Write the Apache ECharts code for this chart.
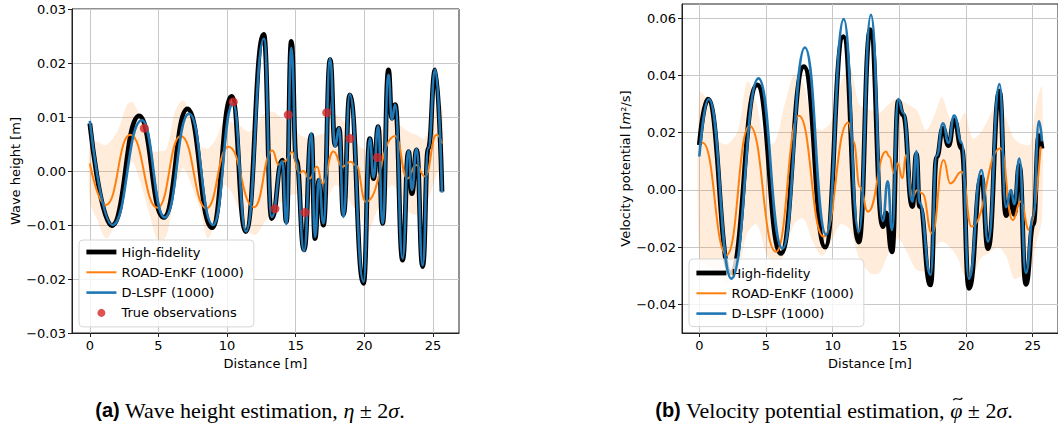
<!DOCTYPE html>
<html><head><meta charset="utf-8">
<script src="https://cdn.jsdelivr.net/npm/echarts@6/dist/echarts.min.js"></script>
<style>html,body{margin:0;padding:0;background:#fff}#c{width:1058px;height:431px}</style>
</head><body><div id="c"></div>
<script>
// ---------- (a) wave height ----------
const hfX_a = [0, 1.60, 3.59, 5.38, 7.11, 8.90, 10.34, 11.36, 12.67, 13.25, 14.03, 14.32, 14.68, 15.05, 15.61, 16.14, 16.41, 16.70, 17.02, 17.51, 17.87, 18.16, 18.48, 18.94, 19.94, 20.40, 20.67, 21.01, 21.33, 21.76, 22.01, 22.25, 22.79, 23.22, 23.47, 23.81, 24.25, 24.66, 25.17, 25.66];
const hfY_a = [0.0088, -0.0101, 0.0102, -0.0086, 0.0115, -0.0105, 0.0138, -0.0112, 0.0253, -0.0088, 0.0020, -0.0094, 0.0240, 0.0020, -0.0146, 0.0067, -0.0125, -0.0017, -0.0100, 0.0206, 0.0048, 0.0079, -0.0081, 0.0141, -0.0208, 0.0060, -0.0014, 0.0082, -0.0097, 0.0187, 0.0098, 0.0123, -0.0165, 0.0036, -0.0042, 0.0039, -0.0177, 0.0042, 0.0187, -0.0038];
const dlX_a = [0, 1.65, 3.79, 5.45, 7.23, 8.98, 10.44, 11.38, 12.69, 13.25, 14.03, 14.32, 14.68, 15.05, 15.61, 16.14, 16.41, 16.70, 17.02, 17.51, 17.87, 18.16, 18.48, 18.94, 19.94, 20.40, 20.67, 21.01, 21.33, 21.76, 22.01, 22.25, 22.79, 23.22, 23.47, 23.81, 24.25, 24.66, 25.17, 25.66];
const dlY_a = [0.0093, -0.0100, 0.0094, -0.0086, 0.0106, -0.0100, 0.0125, -0.0112, 0.0245, -0.0085, 0.0018, -0.0098, 0.0228, 0.0018, -0.0148, 0.0070, -0.0122, -0.0015, -0.0097, 0.0208, 0.0045, 0.0080, -0.0085, 0.0142, -0.0205, 0.0060, -0.0012, 0.0083, -0.0097, 0.0178, 0.0095, 0.0123, -0.0162, 0.0038, -0.0035, 0.0041, -0.0175, 0.0042, 0.0188, -0.0040];
const enX_a = [0, 1.17, 2.94, 4.93, 6.63, 8.50, 10.10, 11.97, 13.30, 13.75, 14.20, 14.75, 15.25, 15.55, 16.00, 16.55, 16.95, 17.75, 18.40, 19.00, 19.40, 20.11, 22.25, 23.15, 23.76, 24.42, 25.27, 25.66];
const enY_a = [0.0014, -0.0063, 0.0067, -0.0068, 0.0065, -0.0069, 0.0045, -0.0067, 0.0038, 0.0012, 0.0018, 0.0035, -0.0004, 0.0000, -0.0014, 0.0008, -0.0023, 0.0036, 0.0008, 0.0017, 0.0010, -0.0057, 0.0065, -0.0014, 0.0011, -0.0010, 0.0067, 0.0051];
const bandX_a = [0, 0.5, 1.2, 2.0, 2.7, 3.1, 3.6, 4.3, 5.0, 5.6, 6.2, 6.8, 7.4, 8.0, 8.6, 9.2, 9.8, 10.3, 10.9, 11.5, 12.1, 12.6, 13.3, 14.0, 14.7, 15.3, 16.0, 16.7, 17.3, 17.9, 18.5, 19.1, 19.8, 20.2, 20.8, 21.4, 22.0, 22.6, 23.2, 23.8, 24.4, 25.0, 25.4, 25.7];
const bandHi_a = [0.0057, 0.0054, 0.0048, 0.0073, 0.0122, 0.0128, 0.0104, 0.0039, 0.0036, 0.0042, 0.0110, 0.0131, 0.0098, 0.0048, 0.0042, 0.0060, 0.0094, 0.0091, 0.0085, 0.0073, 0.0079, 0.0104, 0.0110, 0.0098, 0.0085, 0.0067, 0.0060, 0.0067, 0.0073, 0.0104, 0.0091, 0.0067, 0.0042, 0.0042, 0.0060, 0.0079, 0.0098, 0.0085, 0.0073, 0.0067, 0.0060, 0.0104, 0.0128, 0.0115];
const bandLo_a = [-0.0057, -0.0088, -0.0125, -0.0088, -0.0014, 0.0017, -0.0014, -0.0075, -0.0131, -0.0119, -0.0038, 0.0005, -0.0026, -0.0069, -0.0125, -0.0088, -0.0026, -0.0038, -0.0075, -0.0112, -0.0118, -0.0100, -0.0075, -0.0057, -0.0044, -0.0044, -0.0057, -0.0075, -0.0051, -0.0026, -0.0038, -0.0063, -0.0088, -0.0120, -0.0081, -0.0051, -0.0026, -0.0044, -0.0075, -0.0081, -0.0069, -0.0026, -0.0001, -0.0014];
const obsX = [3.97, 10.45, 13.49, 14.46, 15.68, 17.26, 18.96, 20.96];
const obsY = [0.0079, 0.0128, -0.0070, 0.0104, -0.0077, 0.0108, 0.0060, 0.0025];

// ---------- (b) velocity potential ----------
const hfX_b = [0, 0.64, 2.35, 4.34, 6.12, 7.84, 9.44, 10.80, 11.96, 12.82, 13.76, 14.00, 14.45, 14.92, 15.29, 15.98, 16.28, 16.52, 17.34, 17.80, 18.27, 18.69, 19.11, 19.68, 20.22, 21.16, 21.65, 22.51, 23.00, 23.38, 23.62, 24.00, 24.49, 25.05, 25.47, 25.70];
const hfY_b = [0.0157, 0.0317, -0.0290, 0.0367, -0.0222, 0.0431, -0.0200, 0.0536, -0.0182, 0.0560, -0.0128, -0.0080, -0.0216, 0.0310, 0.0262, -0.0058, 0.0125, -0.0058, -0.0332, 0.0115, 0.0215, 0.0155, 0.0245, 0.0145, -0.0344, 0.0045, -0.0205, 0.0345, -0.0090, -0.0020, -0.0085, 0.0085, -0.0330, -0.0120, 0.0190, 0.0145];
const dlX_b = [0, 0.70, 2.40, 4.44, 6.24, 7.92, 9.52, 10.83, 11.96, 12.87, 13.76, 14.13, 14.45, 14.92, 15.29, 15.98, 16.28, 16.52, 17.34, 17.80, 18.27, 18.69, 19.11, 19.68, 20.22, 21.16, 21.65, 22.51, 23.00, 23.38, 23.62, 24.00, 24.49, 25.05, 25.47, 25.70];
const dlY_b = [0.0117, 0.0318, -0.0310, 0.0390, -0.0205, 0.0498, -0.0157, 0.0597, -0.0146, 0.0612, -0.0108, 0.0030, -0.0140, 0.0318, 0.0270, -0.0040, 0.0135, -0.0045, -0.0297, 0.0120, 0.0233, 0.0165, 0.0260, 0.0165, -0.0310, 0.0070, -0.0180, 0.0370, -0.0060, 0.0000, -0.0050, 0.0110, -0.0290, -0.0090, 0.0240, 0.0170];
const enX_b = [0, 0.25, 2.05, 3.77, 5.75, 7.47, 9.32, 11.17, 11.55, 12.05, 12.65, 14.00, 14.25, 14.62, 14.87, 15.24, 15.49, 16.00, 16.35, 16.72, 17.46, 18.32, 18.82, 19.68, 20.42, 22.59, 23.50, 24.10, 24.73, 25.60];
const enY_b = [0.0160, 0.0165, -0.0227, 0.0224, -0.0216, 0.0259, -0.0163, 0.0236, 0.0170, 0.0010, -0.0076, 0.0134, 0.0117, 0.0058, 0.0093, 0.0041, 0.0122, -0.0023, 0.0000, -0.0012, -0.0152, 0.0105, 0.0023, 0.0064, -0.0128, 0.0146, -0.0105, -0.0040, -0.0140, 0.0152];
const bandX_b = [0, 0.7, 1.4, 2.1, 2.9, 3.6, 4.3, 5.0, 5.7, 6.4, 7.1, 7.8, 8.5, 9.2, 9.9, 10.6, 11.3, 12.0, 12.8, 13.5, 14.2, 14.9, 15.6, 16.3, 17.0, 17.7, 18.2, 18.8, 19.4, 19.9, 20.5, 21.1, 21.7, 22.4, 23.0, 23.6, 24.2, 24.8, 25.3, 25.7];
const bandLo_b = [-0.024, -0.027, -0.030, -0.033, -0.028, -0.015, -0.012, -0.022, -0.027, -0.022, -0.012, -0.010, -0.018, -0.023, -0.018, -0.012, -0.014, -0.024, -0.029, -0.029, -0.022, -0.017, -0.022, -0.028, -0.028, -0.020, -0.018, -0.020, -0.024, -0.030, -0.030, -0.024, -0.022, -0.020, -0.023, -0.031, -0.030, -0.029, -0.018, -0.010];
const bandHi_b = [0.034, 0.031, 0.0175, 0.016, 0.021, 0.038, 0.030, 0.016, 0.017, 0.030, 0.040, 0.037, 0.023, 0.021, 0.024, 0.037, 0.043, 0.030, 0.028, 0.027, 0.030, 0.032, 0.030, 0.028, 0.021, 0.027, 0.0325, 0.025, 0.023, 0.027, 0.018, 0.020, 0.025, 0.031, 0.025, 0.018, 0.016, 0.016, 0.031, 0.036];

// ---------- ticks / labels ----------
const xTicks = [0, 5, 10, 15, 20, 25];
const yTicks_a = [-0.03, -0.02, -0.01, 0.00, 0.01, 0.02, 0.03];
const yTicks_b = [-0.04, -0.02, 0.00, 0.02, 0.04, 0.06];
const names = ['High-fidelity', 'ROAD-EnKF (1000)', 'D-LSPF (1000)', 'True observations'];

const FONT = 'DejaVu Sans';
const C_HF = '#000000', C_EN = '#ff7f0e', C_DL = '#1f77b4', C_OBS = '#d62728';
const fmtY = v => (v < 0 ? '\u2212' : '') + Math.abs(v).toFixed(2);
const pairs = (xs, ys) => xs.map((x, i) => [x, ys[i]]);

function xAx(gi) {
  return {
    type: 'value', gridIndex: gi, min: -1.3, max: 26.9,
    name: 'Distance [m]', nameLocation: 'middle', nameGap: 21,
    nameTextStyle: { fontSize: 13, fontFamily: FONT, color: '#000' },
    axisLine: { show: true, onZero: false, lineStyle: { color: '#222', width: 1 } },
    axisTick: { show: true, length: 4, customValues: xTicks, lineStyle: { color: '#222', width: 1 } },
    axisLabel: { customValues: xTicks, fontSize: 13, fontFamily: FONT, color: '#000', margin: 6, formatter: v => String(v) },
    splitLine: { show: true, lineStyle: { color: '#c8c8c8', width: 1 } }
  };
}
function yAx(gi, mn, mx, ticks, name, rich) {
  return {
    type: 'value', gridIndex: gi, min: mn, max: mx,
    name: name, nameLocation: 'middle', nameGap: 50,
    nameTextStyle: { fontSize: 13, fontFamily: FONT, color: '#000', rich: rich },
    axisLine: { show: true, onZero: false, lineStyle: { color: '#222', width: 1 } },
    axisTick: { show: true, length: 4, customValues: ticks, lineStyle: { color: '#222', width: 1 } },
    axisLabel: { customValues: ticks, fontSize: 13, fontFamily: FONT, color: '#000', margin: 6, formatter: fmtY },
    splitLine: { show: true, lineStyle: { color: '#c8c8c8', width: 1 } }
  };
}
function bandSeries(ai, bx, lo, hi) {
  return {
    type: 'custom', xAxisIndex: ai, yAxisIndex: ai, z: 1, silent: true, clip: true,
    data: bx.map((x, i) => [x, lo[i], hi[i]]),
    encode: { x: 0, y: [1, 2] },
    renderItem: (params, api) => {
      if (params.dataIndex !== 0) return null;
      const pts = [];
      for (let i = 0; i < bx.length; i++) pts.push(api.coord([bx[i], hi[i]]));
      for (let i = bx.length - 1; i >= 0; i--) pts.push(api.coord([bx[i], lo[i]]));
      return { type: 'polygon', shape: { points: pts, smooth: 0.3 }, style: { fill: 'rgba(255,127,14,0.15)', stroke: null } };
    }
  };
}
function lineS(name, ai, xs, ys, color, w, z) {
  return {
    type: 'line', name: name, xAxisIndex: ai, yAxisIndex: ai, data: pairs(xs, ys),
    symbol: 'none', smooth: 0.5, smoothMonotone: 'x', silent: true, clip: true,
    lineStyle: { color: color, width: w }, itemStyle: { color: color }, z: z
  };
}
function legendItems(list) {
  const widths = { 'High-fidelity': 4.8, 'ROAD-EnKF (1000)': 2, 'D-LSPF (1000)': 2.6 };
  return list.map(n => n === 'True observations'
    ? { name: n }
    : { name: n, itemStyle: { opacity: 0 }, lineStyle: { width: widths[n] } });
}
function legendBox(left, top, list, padTop, padBot) {
  return {
    show: true, orient: 'vertical', left: left, top: top, data: legendItems(list),
    itemWidth: 30, itemHeight: 8, itemGap: 7.3, itemTextGap: 10,
    padding: [padTop, 10, padBot, 5], selectedMode: false,
    textStyle: { fontSize: 13, fontFamily: FONT, color: '#000' },
    backgroundColor: 'rgba(255,255,255,0.8)', borderColor: '#d6d6d6', borderWidth: 1, borderRadius: 4
  };
}

// ---------- captions ----------
const F_B = 'bold 20px "Liberation Sans"', F_R = '22px "Liberation Serif"', F_I = 'italic 22px "Liberation Serif"';
const capRich = {
  b: { font: F_B, fill: '#000' },
  r: { font: F_R, fill: '#000' },
  i: { font: F_I, fill: '#000' }
};
const mctx = document.createElement('canvas').getContext('2d');
function tw(t, f) { mctx.font = f; return mctx.measureText(t).width; }
const capA = { cx: 250, cy: 410 };
const capB = { cx: 834, cy: 410 };
const preB = tw('(b)', F_B) + tw(' Velocity potential estimation, ', F_R);
const phiW = tw('\u03c6', F_I);
const totB = preB + phiW + tw(' \u00b1 2', F_R) + tw('\u03c3', F_I) + tw('.', F_R);
const phiCx = capB.cx - totB / 2 + preB + phiW / 2 + 1.5;
const tildeY = capB.cy - 11;

const chart = echarts.init(document.getElementById('c'), null, { renderer: 'svg' });
chart.setOption({
  animation: false,
  backgroundColor: '#fff',
  grid: [
    { left: 72, top: 9, width: 387, height: 324, show: true, borderColor: '#222', borderWidth: 1, backgroundColor: 'transparent' },
    { left: 682, top: 4, width: 383, height: 329, show: true, borderColor: '#222', borderWidth: 1, backgroundColor: 'transparent' }
  ],
  xAxis: [xAx(0), xAx(1)],
  yAxis: [
    yAx(0, -0.03, 0.03, yTicks_a, 'Wave height [m]'),
    yAx(1, -0.05, 0.065, yTicks_b, '{a|Velocity potential [}{i|m}{a|\u00b2/s]}', {
      a: { fontSize: 13, fontFamily: FONT, color: '#000' },
      i: { fontSize: 13, fontFamily: FONT, fontStyle: 'italic', color: '#000' }
    })
  ],
  legend: [
    legendBox(79, 240, names, 5.5, 7.5),
    legendBox(689, 259, names.slice(0, 3), 7.5, 6.5)
  ],
  series: [
    bandSeries(0, bandX_a, bandLo_a, bandHi_a),
    lineS(names[0], 0, hfX_a, hfY_a, C_HF, 4.8, 2),
    lineS(names[1], 0, enX_a, enY_a, C_EN, 2, 3),
    lineS(names[2], 0, dlX_a, dlY_a, C_DL, 2.6, 4),
    { type: 'scatter', name: names[3], xAxisIndex: 0, yAxisIndex: 0, data: pairs(obsX, obsY),
      symbol: 'circle', symbolSize: 9, itemStyle: { color: C_OBS }, z: 6, silent: true },
    bandSeries(1, bandX_b, bandLo_b, bandHi_b),
    lineS(names[0], 1, hfX_b, hfY_b, C_HF, 4.8, 2),
    lineS(names[1], 1, enX_b, enY_b, C_EN, 2, 3),
    lineS(names[2], 1, dlX_b, dlY_b, C_DL, 2.6, 4)
  ],
  graphic: [
    { type: 'text', x: capA.cx, y: capA.cy, silent: true,
      style: { text: '{b|(a)}{r| Wave height estimation, }{i|\u03b7}{r| \u00b1 2}{i|\u03c3}{r|.}', rich: capRich, align: 'center', verticalAlign: 'middle' } },
    { type: 'text', x: capB.cx, y: capB.cy, silent: true,
      style: { text: '{b|(b)}{r| Velocity potential estimation, }{i|\u03c6}{r| \u00b1 2}{i|\u03c3}{r|.}', rich: capRich, align: 'center', verticalAlign: 'middle' } },
    { type: 'bezierCurve', silent: true,
      shape: { x1: phiCx - 4.5, y1: tildeY + 1.2, cpx1: phiCx - 1.5, cpy1: tildeY - 3.5,
               cpx2: phiCx + 1.5, cpy2: tildeY + 3.5, x2: phiCx + 4.5, y2: tildeY - 1.2 },
      style: { stroke: '#000', lineWidth: 1.3, fill: null } }
  ]
});
</script></body></html>
